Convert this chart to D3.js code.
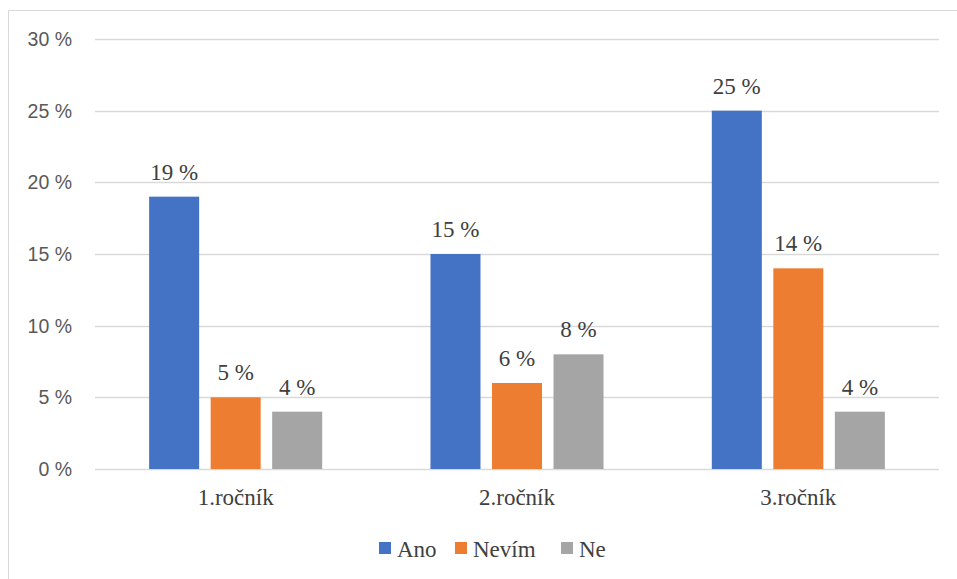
<!DOCTYPE html>
<html><head><meta charset="utf-8">
<script src="https://cdn.jsdelivr.net/npm/d3@7"></script>
<style>body{margin:0;background:#fff}svg{display:block}</style>
</head><body>
<svg id="c" width="957" height="579"></svg>
<script>
const categories = ["1.ročník", "2.ročník", "3.ročník"];
const seriesNames = ["Ano", "Nevím", "Ne"];
const ano = [19, 15, 25];
const nevim = [5, 6, 14];
const ne = [4, 8, 4];
const yTicks = [0, 5, 10, 15, 20, 25, 30];
const colors = ["#4472C4", "#ED7D31", "#A5A5A5"];

const SERIF = "Liberation Serif";
const SANS = "Liberation Sans";
const seriesValues = [ano, nevim, ne];
const svg = d3.select("#c");
const W = 957, H = 579;
const m = {left: 95, right: 18, top: 39, bottom: 110};

// outer border
svg.append("rect").attr("x", 8.5).attr("y", 10.5).attr("width", 960).attr("height", 580)
  .attr("fill", "none").attr("stroke", "#d9d9d9").attr("stroke-width", 1);

const x = d3.scaleBand().domain(categories).range([m.left, W - m.right]).paddingInner(0).paddingOuter(0);
const xs = d3.scaleBand().domain(seriesNames).range([0, x.bandwidth()]).paddingInner(0.187).paddingOuter(0.88);
const y = d3.scaleLinear().domain([0, 30]).range([469, 39]);

// gridlines
svg.append("g").selectAll("line").data(yTicks).join("line")
  .attr("x1", m.left).attr("x2", W - m.right)
  .attr("y1", d => Math.round(y(d)) + 0.5).attr("y2", d => Math.round(y(d)) + 0.5)
  .attr("stroke", "#d9d9d9").attr("stroke-width", 1.3);

// y labels
svg.append("g").selectAll("text").data(yTicks).join("text")
  .attr("font-family", SANS)
  .attr("x", 72).attr("y", d => y(d)).attr("dy", "0.36em")
  .attr("text-anchor", "end").attr("font-size", 19.5)
  .attr("fill", "#595959").text(d => d + " %");

// bars
const groups = svg.append("g").selectAll("g").data(categories).join("g")
  .attr("transform", c => `translate(${x(c)},0)`);
groups.selectAll("rect").data((c, i) => seriesNames.map((s, j) => ({s, v: seriesValues[j][i], j})))
  .join("rect")
  .attr("x", d => xs(d.s)).attr("width", xs.bandwidth())
  .attr("y", d => y(d.v)).attr("height", d => y(0) - y(d.v))
  .attr("fill", d => colors[d.j]);
groups.selectAll("text").data((c, i) => seriesNames.map((s, j) => ({s, v: seriesValues[j][i], j})))
  .join("text")
  .attr("font-family", SERIF)
  .attr("x", d => xs(d.s) + xs.bandwidth() / 2).attr("y", d => y(d.v) - 17)
  .attr("text-anchor", "middle").attr("font-size", 23)
  .attr("fill", "#404040").text(d => d.v + " %");

// category labels
svg.append("g").selectAll("text").data(categories).join("text")
  .attr("font-family", SERIF)
  .attr("x", c => x(c) + x.bandwidth() / 2).attr("y", 505)
  .attr("text-anchor", "middle").attr("font-size", 23)
  .attr("fill", "#404040").text(c => c);

// legend
const legendX = [379, 455, 561];
const lg = svg.append("g").selectAll("g").data(seriesNames).join("g")
  .attr("transform", (d, i) => `translate(${legendX[i]},542)`);
lg.append("rect").attr("width", 12).attr("height", 12).attr("fill", (d, i) => colors[i]);
lg.append("text").attr("font-family", SERIF).attr("x", 18).attr("y", 15)
  .attr("font-size", 23).attr("fill", "#404040").text(d => d);
</script>
</body></html>
